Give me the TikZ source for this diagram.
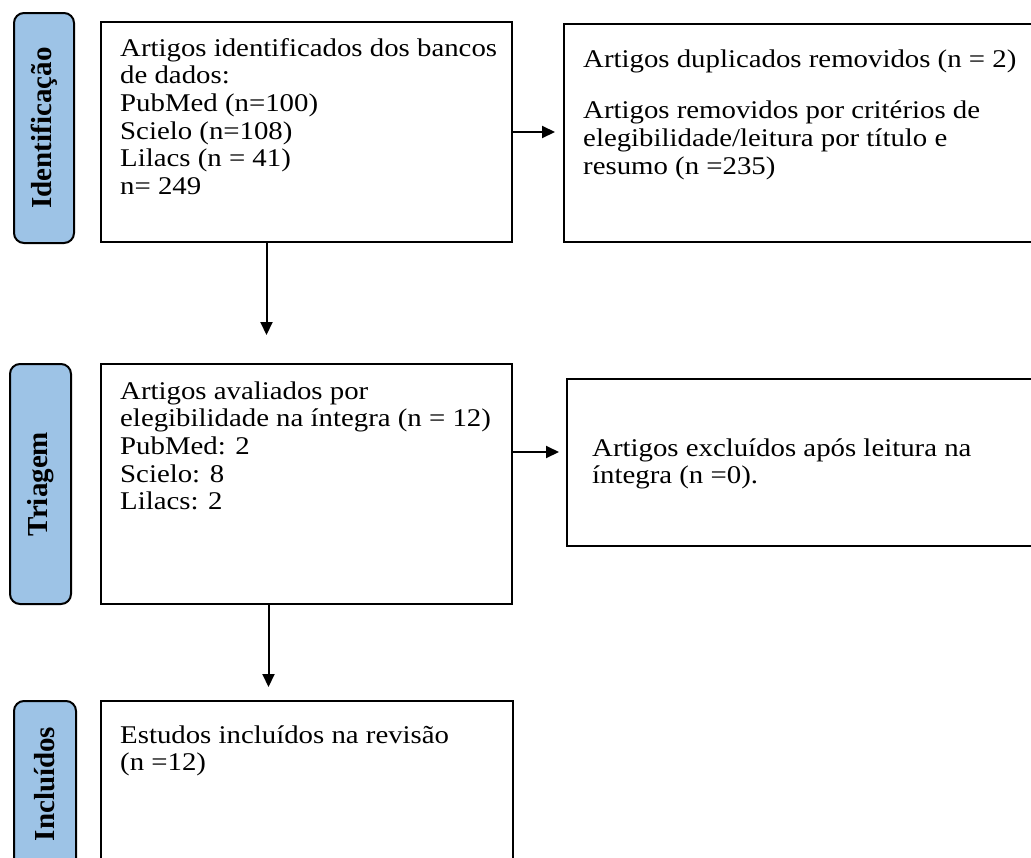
\documentclass[tikz,border=0pt]{standalone}
\usepackage{fontspec}
\setmainfont{Liberation Serif}[FakeStretch=1.13]
\newfontfamily\sidefont{Liberation Serif}
\usetikzlibrary{arrows.meta}
\definecolor{sideblue}{HTML}{9DC3E6}
\newcommand{\fs}{\rule{0pt}{20pt}}
\begin{document}
\begin{tikzpicture}[x=1pt,y=-1pt,
  box/.style={draw=black, line width=2pt, rectangle, inner sep=0pt, anchor=north west},
  side/.style={draw=black, line width=2pt, fill=sideblue, rounded corners=10pt, inner sep=0pt, anchor=north west},
  sidetxt/.style={font=\sidefont\fontsize{29}{30}\selectfont\bfseries, rotate=90, inner sep=0pt},
  txt/.style={inner sep=0pt, anchor=north west, align=left, font=\fontsize{25.5}{27.6}\selectfont},
  arr/.style={line width=2pt, -{Triangle[length=13pt,width=12pt]}}]
\useasboundingbox (0,0) rectangle (1031,857);
\clip (0,0) rectangle (1031,857);
% side labels
\node[side, minimum width=60pt, minimum height=230pt] (s1) at (13,12) {};
\node[sidetxt] (s1t) at (s1.center) {Identificação};
\node[side, minimum width=61pt, minimum height=240pt] (s2) at (9,363) {};
\node[sidetxt] (s2t) at (s2.center) {Triagem};
\node[side, minimum width=62pt, minimum height=240pt] (s3) at (13,700) {};
\node[sidetxt] (s3t) at ([yshift=-84pt]s3.north) {Incluídos};
% boxes
\node[box, minimum width=411pt, minimum height=220pt] (b1) at (100,21) {};
\node[box, minimum width=500pt, minimum height=218pt] (b2) at (563,23) {};
\node[box, minimum width=411pt, minimum height=240pt] (b3) at (100,363) {};
\node[box, minimum width=500pt, minimum height=167pt] (b4) at (566,378) {};
\node[box, minimum width=412pt, minimum height=240pt] (b5) at (100,700) {};
% texts
\node[txt] (t1) at (120,36) {\fs Artigos identificados dos bancos\\de dados:\\PubMed (n=100)\\Scielo (n=108)\\Lilacs (n = 41)\\n= 249};
\node[txt] (t2) at (583,47) {\fs Artigos duplicados removidos (n = 2)\\[24pt]Artigos removidos por critérios de\\elegibilidade/leitura por título e\\resumo (n =235)};
\node[txt] (t3) at (120,379) {\fs Artigos avaliados por\\elegibilidade na íntegra (n = 12)\\PubMed: 2\\Scielo: 8\\Lilacs: 2};
\node[txt] (t4) at (592,436) {\fs Artigos excluídos após leitura na\\íntegra (n =0).};
\node[txt] (t5) at (120,723) {\fs Estudos incluídos na revisão\\(n =12)};
% connectors
\draw[arr, shorten >=8pt] (b1.east) -- (b1.east -| b2.west);
\draw[arr, shorten >=28pt] ([xshift=-40pt]b1.south) -- ([xshift=-40pt]b1.south |- b3.north);
\draw[arr, shorten >=7pt] ([yshift=32pt]b3.east) -- ([yshift=32pt]b3.east -| b4.west);
\draw[arr, shorten >=13pt] ([xshift=-38pt]b3.south) -- ([xshift=-38pt]b3.south |- b5.north);
\end{tikzpicture}
\end{document}
